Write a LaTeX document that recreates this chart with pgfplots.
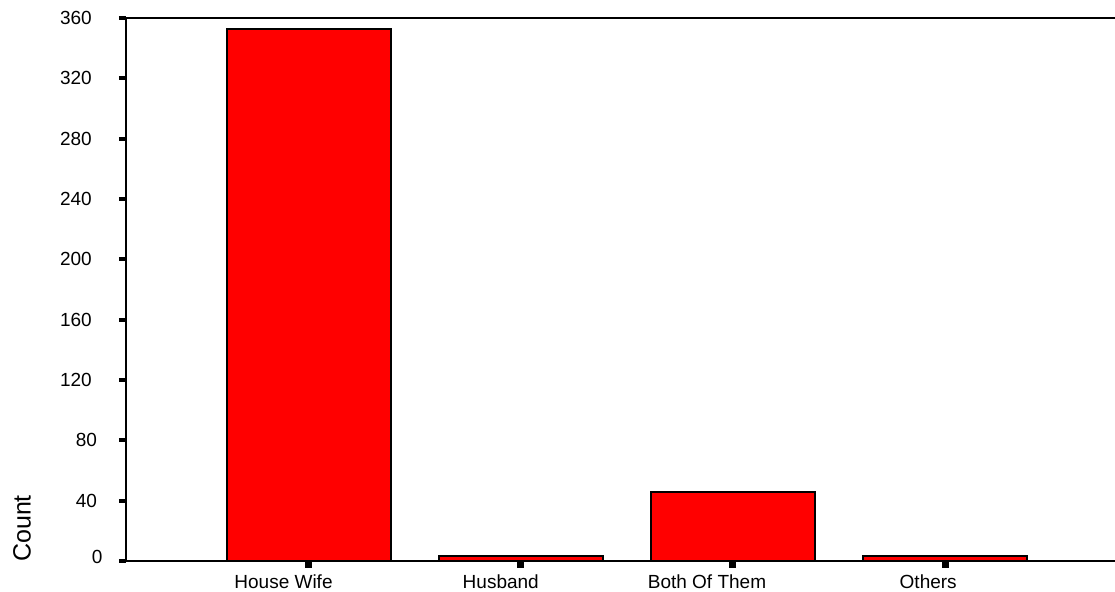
\documentclass[border=0pt]{standalone}
\usepackage{fontspec}
\setmainfont{Liberation Sans}
\usepackage{pgfplots}
\pgfplotsset{compat=1.18}
\begin{document}
\begin{tikzpicture}
\path[use as bounding box] (-63pt,-15.5pt) rectangle (494.5pt,280.5pt);
\begin{axis}[
  at={(0,0)}, anchor=south west,
  scale only axis, width=494.5pt, height=271.5pt,
  xmin=0.14, xmax=4.80, ymin=0, ymax=360,
  axis lines*=left,
  axis line style={line width=1pt},
  clip=false,
  ybar, bar width=82pt,
  tick align=outside,
  major tick length=3.5pt,
  ytick={0,40,80,120,160,200,240,280,320,360},
  yticklabels={\raisebox{4.5pt}{0},40\kern.278em,80\kern.278em,120\kern.556em,160\kern.556em,200\kern.556em,240\kern.556em,280\kern.556em,320\kern.556em,360\kern.556em},
  xtick={1,2,3,4},
  xticklabels={House Wife\kern25pt,Husband\kern20pt,Both Of Them\kern26pt,Others\kern17pt},
  ytick style={line width=2pt, black},
  xtick style={line width=3.5pt, black},
  yticklabel style={font=\fontsize{9.5}{11}\selectfont, xshift=-4.8pt},
  xticklabel style={font=\fontsize{9.5}{11}\selectfont},
  ylabel={Count},
  ylabel style={font=\fontsize{12.5}{14}\selectfont, at={(rel axis cs:-0.1052,0.06)}, anchor=center},
]
\addplot[fill=red, draw=black, line width=1pt] coordinates {(1,353) (2,3) (3,46) (4,3)};
\draw[line width=1pt] (rel axis cs:0,1) -- (rel axis cs:1,1);
\end{axis}
\end{tikzpicture}
\end{document}
